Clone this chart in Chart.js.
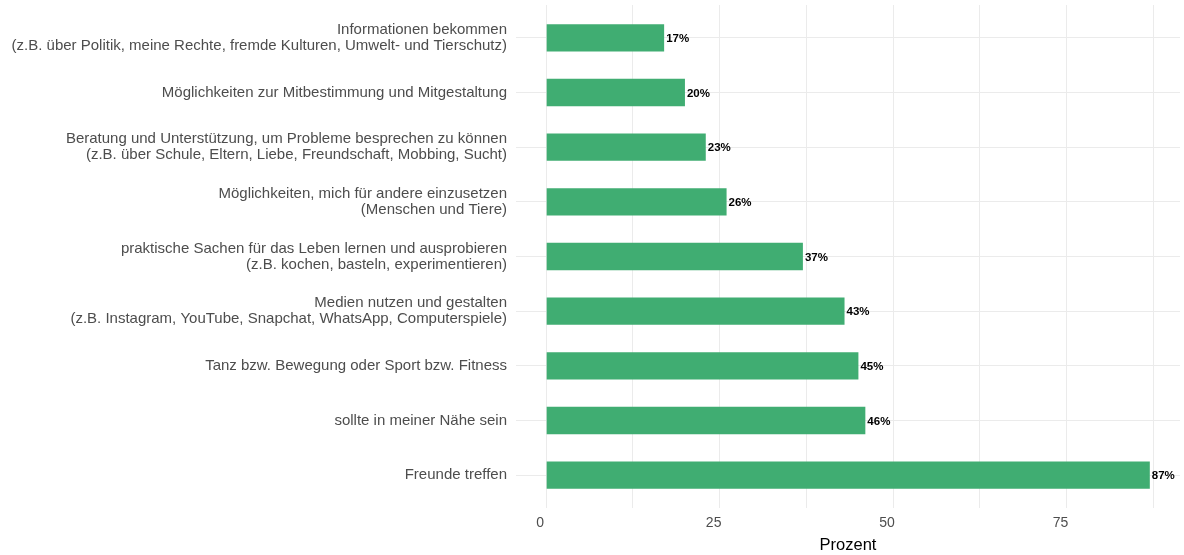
<!DOCTYPE html>
<html>
<head>
<meta charset="utf-8">
<script src="https://cdn.jsdelivr.net/npm/chart.js@4"></script>
<style>
  html, body { margin: 0; padding: 0; background: #fff; }
  #wrap { width: 1184px; height: 555px; }
</style>
</head>
<body>
<div id="wrap"><canvas id="chart"></canvas></div>
<script>
// Kategorien (von oben nach unten)
const categories = [
    ['Informationen bekommen', '(z.B. über Politik, meine Rechte, fremde Kulturen, Umwelt- und Tierschutz)'],
    ['Möglichkeiten zur Mitbestimmung und Mitgestaltung'],
    ['Beratung und Unterstützung, um Probleme besprechen zu können', '(z.B. über Schule, Eltern, Liebe, Freundschaft, Mobbing, Sucht)'],
    ['Möglichkeiten, mich für andere einzusetzen', '(Menschen und Tiere)'],
    ['praktische Sachen für das Leben lernen und ausprobieren', '(z.B. kochen, basteln, experimentieren)'],
    ['Medien nutzen und gestalten', '(z.B. Instagram, YouTube, Snapchat, WhatsApp, Computerspiele)'],
    ['Tanz bzw. Bewegung oder Sport bzw. Fitness'],
    ['sollte in meiner Nähe sein'],
    ['Freunde treffen']
];
// Prozentwerte
const values = [17, 20, 23, 26, 37, 43, 45, 46, 87];
// Achsenbeschriftungen
const xTicks = [0, 25, 50, 75];
const xMinorTicks = [12.5, 37.5, 62.5, 87.5];

const fontFamily = '"Liberation Sans", Arial, sans-serif';

// Prozent-Labels rechts neben den Balken
const valueLabels = {
    id: 'valueLabels',
    afterDatasetsDraw(chart) {
        const ctx = chart.ctx;
        const meta = chart.getDatasetMeta(0);
        ctx.save();
        ctx.font = 'bold 11.5px ' + fontFamily;
        ctx.fillStyle = '#000';
        ctx.textAlign = 'left';
        ctx.textBaseline = 'middle';
        meta.data.forEach((bar, i) => {
            ctx.fillText(values[i] + '%', bar.x + 2, bar.y + 1);
        });
        ctx.restore();
    }
};

const ctx = document.getElementById('chart').getContext('2d');
new Chart(ctx, {
    type: 'bar',
    data: {
        datasets: [{
            data: values.map((v, i) => ({ x: v, y: i })),
            backgroundColor: '#40AD72',
            borderWidth: 0,
            categoryPercentage: 1,
            barPercentage: 0.5
        }]
    },
    options: {
        indexAxis: 'y',
        responsive: true,
        maintainAspectRatio: false,
        animation: false,
        layout: { padding: { top: 5, right: 4, left: 0, bottom: 0 } },
        plugins: {
            legend: { display: false },
            tooltip: { enabled: false }
        },
        scales: {
            x: {
                type: 'linear',
                min: -4.35,
                max: 91.35,
                afterBuildTicks: scale => {
                    scale.ticks = xTicks.concat(xMinorTicks).sort((a, b) => a - b).map(v => ({ value: v }));
                },
                afterFit: scale => { scale.height = 47; },
                ticks: {
                    callback: v => (xTicks.includes(v) ? String(v) : ''),
                    color: '#4D4D4D',
                    font: { family: fontFamily, size: 14 },
                    padding: 7,
                    labelOffset: -6,
                    maxRotation: 0,
                    autoSkip: false
                },
                grid: { color: '#EBEBEB', lineWidth: 1, drawTicks: false },
                border: { display: false },
                title: {
                    display: true,
                    text: 'Prozent',
                    color: '#000',
                    font: { family: fontFamily, size: 16.5 },
                    padding: { top: 0, bottom: 0 }
                }
            },
            y: {
                type: 'linear',
                reverse: true,
                offset: false,
                min: -0.6,
                max: 8.6,
                afterBuildTicks: scale => {
                    scale.ticks = categories.map((c, i) => ({ value: i }));
                },
                afterFit: scale => {
                    scale.width = 516;
                    scale.paddingTop = 0;
                    scale.paddingBottom = 0;
                },
                ticks: {
                    callback: v => categories[v],
                    color: '#4D4D4D',
                    font: { family: fontFamily, size: 15, lineHeight: 1.07 },
                    padding: 9,
                    autoSkip: false
                },
                grid: { color: '#EBEBEB', lineWidth: 1, drawTicks: false, offset: false },
                border: { display: false }
            }
        }
    },
    plugins: [valueLabels]
});
</script>
</body>
</html>
